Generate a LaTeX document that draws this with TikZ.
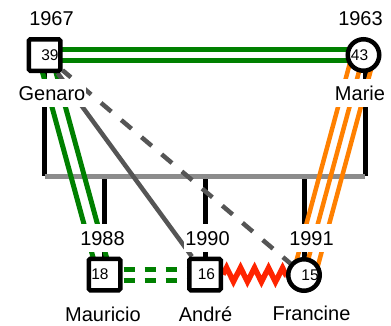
\documentclass[tikz,border=0pt]{standalone}
\usepackage{fontspec}
\setmainfont{Liberation Sans}
\usetikzlibrary{calc, backgrounds, decorations.pathmorphing}
\definecolor{wedgreen}{RGB}{0,128,0}
\definecolor{liveorange}{RGB}{255,128,0}
\definecolor{hostred}{RGB}{255,36,0}
\definecolor{darkline}{RGB}{85,85,85}
\definecolor{barline}{RGB}{140,140,140}

\begin{document}
\begin{tikzpicture}[x=1pt, y=-1pt,
    male/.style={draw, line width=4.5pt, fill=white, rectangle, rounded corners=1.5pt, minimum size=31.5pt, inner sep=0pt},
    female/.style={draw, line width=4.5pt, fill=white, circle, minimum size=31.5pt, inner sep=0pt},
    age/.style={font=\fontsize{15.5}{15.5}\selectfont},
    tag/.style={fill=white, anchor=base, inner xsep=1pt, inner ysep=7pt, font=\fontsize{20}{20}\selectfont},
    marriage/.style={wedgreen, line width=5pt},
    cohab/.style={liveorange, line width=4.5pt},
    descent/.style={black, line width=5pt},
    relation/.style={darkline, line width=4.5pt},
    hostile/.style={hostred, line width=5.5pt, decorate, decoration={zigzag, segment length=14pt, amplitude=7pt}}]
    \useasboundingbox (0,0) rectangle (391,325);

    % Persons
    \node[male, label={[age, xshift=5.5pt]center:39}] (G) at (44.5,55) {};
    \node[female, label={[age, xshift=-4pt]center:43}] (M) at (363.5,55) {};
    \node[male, label={[age, xshift=-4.5pt]center:18}] (Mau) at (104.5,274.5) {};
    \node[male, label={[age, xshift=1.5pt]center:16}] (A) at (205,274.5) {};
    \node[female, label={[age, xshift=6pt]center:15}] (F) at (304,275) {};

    % Names and years
    \node[tag] (nG) at (52,100) {Genaro};
    \node[tag] (nM) at (360,100) {Marie};
    \node[tag] (nMau) at (103,321) {Mauricio};
    \node[tag] (nA) at (205.5,321) {André};
    \node[tag] (nF) at (311.5,320) {Francine};
    \node[tag] (yG) at (51.5,25) {1967};
    \node[tag] (yM) at (360.5,25) {1963};
    \node[tag] (yMau) at (102.5,245) {1988};
    \node[tag] (yA) at (207.5,245) {1990};
    \node[tag] (yF) at (311.5,245) {1991};

    \begin{scope}[on background layer]
        % Family bar
        \coordinate (barL) at (44.5,176);
        \coordinate (barR) at (365,176);
        \draw[descent] (G) -- (barL);
        \draw[descent] (M.center -| barR) -- (barR);
        \foreach \c in {Mau, A, F}
            \draw[descent] (barL -| \c) -- (\c);
        \draw[barline, line width=5pt] (barL) -- (barR);

        % Couple and links
        \foreach \o in {-5.75, 5.75}
            \draw[marriage] ($(G)!\o pt!90:(M)$) -- ($(M)!\o pt!-90:(G)$);
        \foreach \o in {-6.5, 6.5}
            \draw[marriage] ($(G)!\o pt!90:(Mau)$) -- ($(Mau)!\o pt!-90:(G)$);
        \foreach \o in {-11, 0, 11}
            \draw[cohab] ($(M)!\o pt!90:(F)$) -- ($(F)!\o pt!-90:(M)$);
        \draw[relation] (G) -- (A);
        \draw[relation, dash pattern=on 13.5pt off 13pt, dash phase=2.5pt] (G) -- (F);

        % Siblings
        \foreach \o in {-5.5, 5.5}
            \draw[marriage, dash pattern=on 11pt off 10pt, dash phase=2pt] ($(Mau)!\o pt!90:(A)$) -- ($(A)!\o pt!-90:(Mau)$);
        \draw[hostile] (A.east) -- (F.west);
    \end{scope}
\end{tikzpicture}
\end{document}
